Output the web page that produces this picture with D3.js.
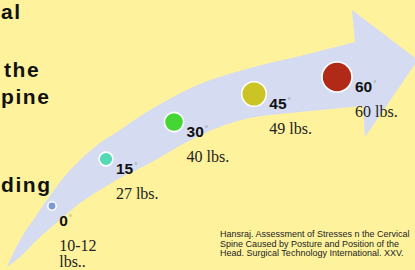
<!DOCTYPE html>
<html>
<head>
<meta charset="utf-8">
<script src="https://cdnjs.cloudflare.com/ajax/libs/d3/7.8.5/d3.min.js"></script>
<style>
  html, body { margin: 0; padding: 0; background: #fef29d; overflow: hidden; }
  #chart svg { display: block; }
</style>
</head>
<body>
<div id="chart"></div>
<script>
// Data
const angles = [0, 15, 30, 45, 60];
const weightLines = [["10-12", "lbs.."], ["27 lbs."], ["40 lbs."], ["49 lbs."], ["60 lbs."]];
const dotColors = ["#7b98d8", "#55d9b6", "#46d633", "#cbc424", "#b12a18"];
const titleBits = ["al", "the", "pine", "ding"];
const citation = [
    "Hansraj. Assessment of Stresses n the Cervical",
    "Spine Caused by Posture and Position of the",
    "Head. Surgical Technology International.  XXV."
];

// Arrow outline (shape, in pixel units)
const arrowUpper = [[7,267],[20,240],[40,210],[60,182],[80,160],[100,143],[120,130],[150,110],[200,84],[250,68],[300,56],[355,42]];
const arrowHead = [[352,10],[418,60],[365,137]];
const arrowLower = [[363,106],[300,112],[250,118],[217,128],[185,143],[150,163],[120,178],[100,190],[80,203],[60,220],[40,237],[20,257],[7,267]];

const width = 415, height = 270;

const svg = d3.select("#chart")
    .append("svg")
    .attr("width", width)
    .attr("height", height);

svg.append("rect")
    .attr("width", width)
    .attr("height", height)
    .attr("fill", "#fef29d");

// Scales: angle -> position along the arrow, angle -> dot size
const x = d3.scaleLinear().domain(angles).range([52, 106, 174, 254, 337]);
const y = d3.scaleLinear().domain(angles).range([206, 159, 122, 94, 77]);
const r = d3.scaleLinear().domain([0, 60]).range([4.2, 15]);

// Curved arrow
const edge = d3.line().curve(d3.curveCatmullRom);
const arrowPath = edge(arrowUpper)
    + arrowHead.map(p => "L" + p[0] + "," + p[1]).join("")
    + edge(arrowLower).replace(/^M/, "L") + "Z";

svg.append("path")
    .attr("d", arrowPath)
    .attr("fill", "#d5dbf0");

// Cut-off title on the left
const titleY = [19, 77, 104, 192];
const titleX = [1, 4, 1, 1];
svg.selectAll(".title")
    .data(titleBits)
    .join("text")
    .attr("class", "title")
    .attr("x", (d, i) => titleX[i])
    .attr("y", (d, i) => titleY[i])
    .style("font-family", "'Liberation Sans', Arial, sans-serif")
    .style("font-weight", "bold")
    .style("font-size", "21px")
    .style("letter-spacing", "1.6px")
    .attr("fill", "#111")
    .text(d => d);

// Dots
svg.selectAll(".dot")
    .data(angles)
    .join("circle")
    .attr("class", "dot")
    .attr("cx", d => x(d))
    .attr("cy", d => y(d))
    .attr("r", d => r(d))
    .attr("fill", (d, i) => dotColors[i])
    .attr("stroke", "#fff")
    .attr("stroke-width", 1.6);

// Angle labels
const labelDy = i => i === 0 ? 20 : 15;
const angleLabel = svg.selectAll(".angle")
    .data(angles)
    .join("text")
    .attr("class", "angle")
    .attr("x", d => x(d) + r(d) + 3)
    .attr("y", (d, i) => y(d) + labelDy(i))
    .style("font-family", "'Liberation Sans', Arial, sans-serif")
    .style("font-weight", "bold")
    .style("font-size", "15.5px")
    .attr("fill", "#111");

angleLabel.append("tspan").text(d => d);
angleLabel.append("tspan")
    .attr("dx", 1)
    .attr("dy", -6)
    .style("font-size", "8px")
    .style("font-weight", "normal")
    .attr("fill", "#888")
    .text("°");

// Weight labels
const weightLabel = svg.selectAll(".weight")
    .data(angles)
    .join("text")
    .attr("class", "weight")
    .attr("x", d => x(d) + r(d) + 3)
    .attr("y", (d, i) => y(d) + labelDy(i) + 24.5)
    .style("font-family", "'Liberation Serif', 'Times New Roman', serif")
    .style("font-size", "16px")
    .attr("fill", "#222");

weightLabel.selectAll("tspan")
    .data((d, i) => weightLines[i])
    .join("tspan")
    .attr("x", function() { return d3.select(this.parentNode).attr("x"); })
    .attr("dy", (d, j) => j === 0 ? 0 : 16.5)
    .text(d => d);

// Citation
svg.selectAll(".cite")
    .data(citation)
    .join("text")
    .attr("class", "cite")
    .attr("x", 220)
    .attr("y", (d, i) => 237 + i * 9.7)
    .style("font-family", "'Liberation Sans', Arial, sans-serif")
    .style("font-size", "9px")
    .attr("fill", "#222")
    .text(d => d);
</script>
</body>
</html>
